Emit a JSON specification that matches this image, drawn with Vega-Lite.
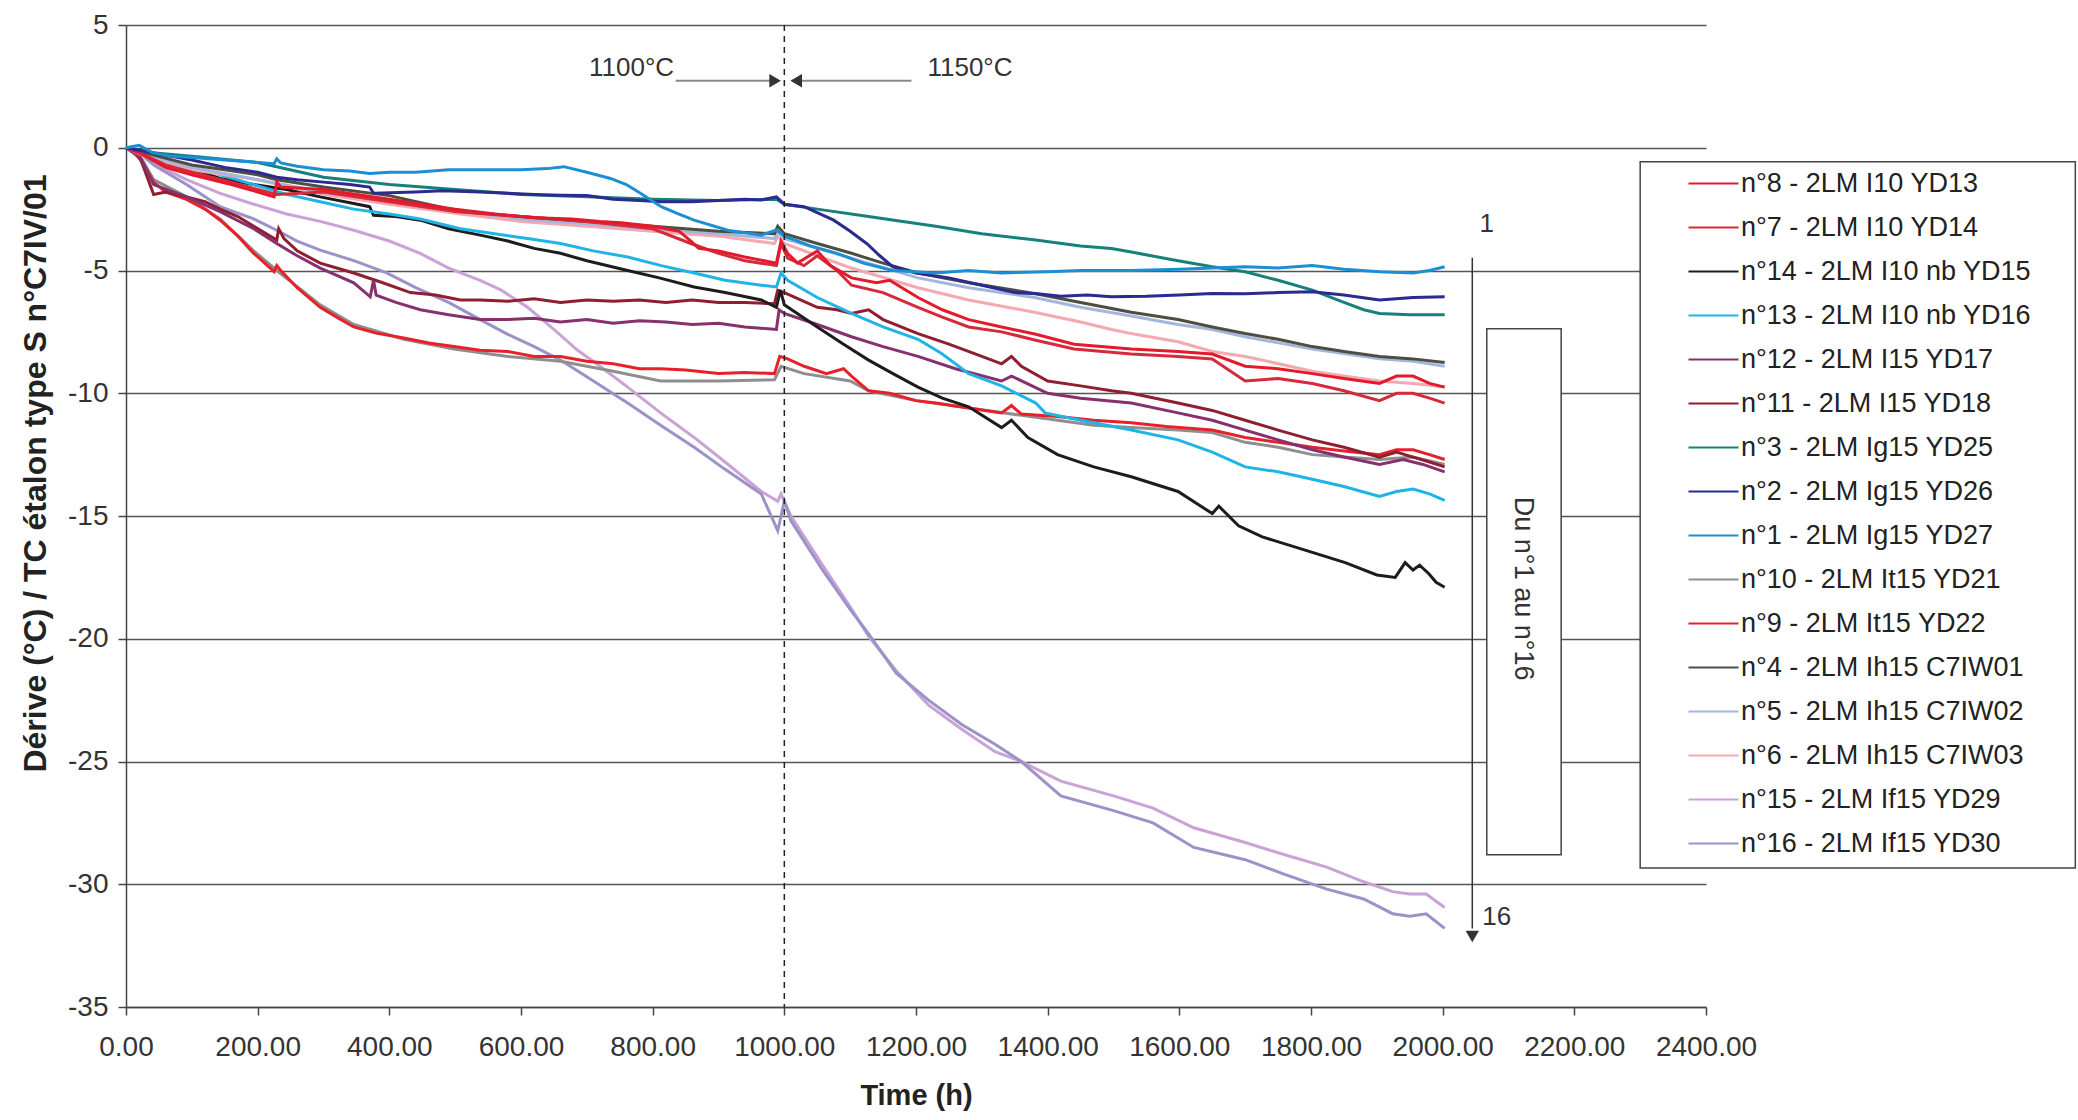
{
"$schema":"https://vega.github.io/schema/vega-lite/v6.json",
"width":1580,"height":982,
"autosize":{"type":"none"},
"padding":{"left":126,"top":25,"right":372,"bottom":113},
"background":"white",
"config":{
 "view":{"stroke":null},
 "font":"Liberation Sans",
 "axis":{"labelFont":"Liberation Sans","titleFont":"Liberation Sans","labelColor":"#333","titleColor":"#222","domainColor":"#444","tickColor":"#444","domainWidth":1.5,"tickWidth":1.5,"gridColor":"#555","gridWidth":1.5,"labelFontSize":28,"titleFontSize":29,"titleFontWeight":"bold"}
},
"datasets":{
 "names":[
  {"n":8,"s":"n°8 - 2LM I10 YD13"},{"n":7,"s":"n°7 - 2LM I10 YD14"},{"n":14,"s":"n°14 - 2LM I10 nb YD15"},{"n":13,"s":"n°13 - 2LM I10 nb YD16"},
  {"n":12,"s":"n°12 - 2LM I15 YD17"},{"n":11,"s":"n°11 - 2LM I15 YD18"},{"n":3,"s":"n°3 - 2LM Ig15 YD25"},{"n":2,"s":"n°2 - 2LM Ig15 YD26"},
  {"n":1,"s":"n°1 - 2LM Ig15 YD27"},{"n":10,"s":"n°10 - 2LM It15 YD21"},{"n":9,"s":"n°9 - 2LM It15 YD22"},{"n":4,"s":"n°4 - 2LM Ih15 C7IW01"},
  {"n":5,"s":"n°5 - 2LM Ih15 C7IW02"},{"n":6,"s":"n°6 - 2LM Ih15 C7IW03"},{"n":15,"s":"n°15 - 2LM If15 YD29"},{"n":16,"s":"n°16 - 2LM If15 YD30"}
 ],
 "pts":[
  {"n":15,"t":0,"v":0},{"n":15,"t":20,"v":-0.2},{"n":15,"t":42,"v":-0.64},{"n":15,"t":92,"v":-1.3},{"n":15,"t":143,"v":-1.86},{"n":15,"t":194,"v":-2.3},{"n":15,"t":244,"v":-2.7},{"n":15,"t":295,"v":-3.0},{"n":15,"t":346,"v":-3.36},{"n":15,"t":400,"v":-3.8},{"n":15,"t":447,"v":-4.3},{"n":15,"t":490,"v":-4.9},{"n":15,"t":538,"v":-5.4},{"n":15,"t":570,"v":-5.8},{"n":15,"t":610,"v":-6.5},{"n":15,"t":650,"v":-7.4},{"n":15,"t":686,"v":-8.25},{"n":15,"t":720,"v":-8.9},{"n":15,"t":762,"v":-9.75},{"n":15,"t":812,"v":-10.8},{"n":15,"t":863,"v":-11.8},{"n":15,"t":910,"v":-12.8},{"n":15,"t":965,"v":-14.0},{"n":15,"t":990,"v":-14.4},{"n":15,"t":995,"v":-14.1},{"n":15,"t":1010,"v":-15.0},{"n":15,"t":1058,"v":-17.0},{"n":15,"t":1100,"v":-18.7},{"n":15,"t":1128,"v":-19.9},{"n":15,"t":1170,"v":-21.3},{"n":15,"t":1219,"v":-22.7},{"n":15,"t":1270,"v":-23.7},{"n":15,"t":1320,"v":-24.6},{"n":15,"t":1360,"v":-25.0},{"n":15,"t":1420,"v":-25.8},{"n":15,"t":1500,"v":-26.4},{"n":15,"t":1560,"v":-26.9},{"n":15,"t":1622,"v":-27.7},{"n":15,"t":1700,"v":-28.3},{"n":15,"t":1760,"v":-28.8},{"n":15,"t":1824,"v":-29.3},{"n":15,"t":1880,"v":-29.9},{"n":15,"t":1924,"v":-30.3},{"n":15,"t":1950,"v":-30.4},{"n":15,"t":1975,"v":-30.4},{"n":15,"t":2003,"v":-30.95},
  {"n":16,"t":0,"v":0},{"n":16,"t":20,"v":-0.2},{"n":16,"t":42,"v":-0.7},{"n":16,"t":92,"v":-1.5},{"n":16,"t":143,"v":-2.4},{"n":16,"t":194,"v":-2.9},{"n":16,"t":229,"v":-3.36},{"n":16,"t":260,"v":-3.8},{"n":16,"t":295,"v":-4.17},{"n":16,"t":346,"v":-4.6},{"n":16,"t":396,"v":-5.1},{"n":16,"t":440,"v":-5.7},{"n":16,"t":490,"v":-6.3},{"n":16,"t":538,"v":-7.0},{"n":16,"t":580,"v":-7.6},{"n":16,"t":620,"v":-8.1},{"n":16,"t":660,"v":-8.65},{"n":16,"t":710,"v":-9.5},{"n":16,"t":762,"v":-10.4},{"n":16,"t":812,"v":-11.3},{"n":16,"t":863,"v":-12.2},{"n":16,"t":910,"v":-13.1},{"n":16,"t":965,"v":-14.1},{"n":16,"t":990,"v":-15.6},{"n":16,"t":1000,"v":-14.4},{"n":16,"t":1010,"v":-15.2},{"n":16,"t":1058,"v":-17.2},{"n":16,"t":1100,"v":-18.8},{"n":16,"t":1128,"v":-19.8},{"n":16,"t":1170,"v":-21.4},{"n":16,"t":1219,"v":-22.5},{"n":16,"t":1270,"v":-23.5},{"n":16,"t":1320,"v":-24.3},{"n":16,"t":1360,"v":-25.0},{"n":16,"t":1420,"v":-26.4},{"n":16,"t":1500,"v":-27.0},{"n":16,"t":1560,"v":-27.5},{"n":16,"t":1622,"v":-28.5},{"n":16,"t":1700,"v":-29.0},{"n":16,"t":1760,"v":-29.6},{"n":16,"t":1824,"v":-30.2},{"n":16,"t":1880,"v":-30.6},{"n":16,"t":1924,"v":-31.2},{"n":16,"t":1950,"v":-31.3},{"n":16,"t":1975,"v":-31.2},{"n":16,"t":2003,"v":-31.8},
  {"n":10,"t":0,"v":0},{"n":10,"t":25,"v":-0.5},{"n":10,"t":42,"v":-1.3},{"n":10,"t":92,"v":-2.0},{"n":10,"t":143,"v":-2.9},{"n":10,"t":194,"v":-4.2},{"n":10,"t":229,"v":-5.0},{"n":10,"t":295,"v":-6.4},{"n":10,"t":346,"v":-7.2},{"n":10,"t":422,"v":-7.8},{"n":10,"t":498,"v":-8.2},{"n":10,"t":580,"v":-8.5},{"n":10,"t":660,"v":-8.7},{"n":10,"t":740,"v":-9.1},{"n":10,"t":812,"v":-9.5},{"n":10,"t":900,"v":-9.5},{"n":10,"t":985,"v":-9.45},{"n":10,"t":995,"v":-8.9},{"n":10,"t":1030,"v":-9.2},{"n":10,"t":1100,"v":-9.5},{"n":10,"t":1128,"v":-9.9},{"n":10,"t":1200,"v":-10.3},{"n":10,"t":1280,"v":-10.6},{"n":10,"t":1360,"v":-10.9},{"n":10,"t":1415,"v":-11.1},{"n":10,"t":1470,"v":-11.3},{"n":10,"t":1527,"v":-11.4},{"n":10,"t":1598,"v":-11.5},{"n":10,"t":1650,"v":-11.6},{"n":10,"t":1700,"v":-12.0},{"n":10,"t":1750,"v":-12.2},{"n":10,"t":1802,"v":-12.5},{"n":10,"t":1850,"v":-12.6},{"n":10,"t":1904,"v":-12.7},{"n":10,"t":1955,"v":-12.6},{"n":10,"t":2003,"v":-12.9},
  {"n":9,"t":0,"v":0},{"n":9,"t":10,"v":-0.1},{"n":9,"t":25,"v":-0.6},{"n":9,"t":42,"v":-1.4},{"n":9,"t":60,"v":-1.8},{"n":9,"t":92,"v":-2.1},{"n":9,"t":120,"v":-2.5},{"n":9,"t":143,"v":-2.95},{"n":9,"t":170,"v":-3.6},{"n":9,"t":194,"v":-4.3},{"n":9,"t":215,"v":-4.8},{"n":9,"t":225,"v":-5.05},{"n":9,"t":229,"v":-4.8},{"n":9,"t":235,"v":-5.0},{"n":9,"t":260,"v":-5.7},{"n":9,"t":295,"v":-6.5},{"n":9,"t":320,"v":-6.9},{"n":9,"t":346,"v":-7.3},{"n":9,"t":380,"v":-7.55},{"n":9,"t":422,"v":-7.75},{"n":9,"t":460,"v":-7.95},{"n":9,"t":498,"v":-8.1},{"n":9,"t":538,"v":-8.25},{"n":9,"t":580,"v":-8.3},{"n":9,"t":620,"v":-8.5},{"n":9,"t":660,"v":-8.5},{"n":9,"t":700,"v":-8.7},{"n":9,"t":740,"v":-8.8},{"n":9,"t":780,"v":-9.0},{"n":9,"t":812,"v":-9.0},{"n":9,"t":850,"v":-9.05},{"n":9,"t":900,"v":-9.2},{"n":9,"t":940,"v":-9.15},{"n":9,"t":985,"v":-9.2},{"n":9,"t":993,"v":-8.5},{"n":9,"t":1005,"v":-8.6},{"n":9,"t":1030,"v":-8.9},{"n":9,"t":1064,"v":-9.2},{"n":9,"t":1090,"v":-9.0},{"n":9,"t":1102,"v":-9.3},{"n":9,"t":1128,"v":-9.9},{"n":9,"t":1160,"v":-10.0},{"n":9,"t":1200,"v":-10.3},{"n":9,"t":1230,"v":-10.4},{"n":9,"t":1280,"v":-10.6},{"n":9,"t":1330,"v":-10.8},{"n":9,"t":1345,"v":-10.5},{"n":9,"t":1360,"v":-10.85},{"n":9,"t":1415,"v":-10.95},{"n":9,"t":1470,"v":-11.1},{"n":9,"t":1527,"v":-11.2},{"n":9,"t":1580,"v":-11.35},{"n":9,"t":1650,"v":-11.5},{"n":9,"t":1700,"v":-11.8},{"n":9,"t":1750,"v":-12.0},{"n":9,"t":1802,"v":-12.2},{"n":9,"t":1850,"v":-12.35},{"n":9,"t":1904,"v":-12.5},{"n":9,"t":1930,"v":-12.3},{"n":9,"t":1955,"v":-12.3},{"n":9,"t":1980,"v":-12.5},{"n":9,"t":2003,"v":-12.7},
  {"n":11,"t":0,"v":0},{"n":11,"t":20,"v":-0.3},{"n":11,"t":42,"v":-1.9},{"n":11,"t":60,"v":-1.8},{"n":11,"t":92,"v":-2.0},{"n":11,"t":120,"v":-2.2},{"n":11,"t":143,"v":-2.5},{"n":11,"t":170,"v":-2.8},{"n":11,"t":194,"v":-3.2},{"n":11,"t":229,"v":-3.76},{"n":11,"t":232,"v":-3.3},{"n":11,"t":240,"v":-3.7},{"n":11,"t":260,"v":-4.2},{"n":11,"t":295,"v":-4.7},{"n":11,"t":320,"v":-4.9},{"n":11,"t":346,"v":-5.1},{"n":11,"t":390,"v":-5.5},{"n":11,"t":432,"v":-5.9},{"n":11,"t":470,"v":-6.0},{"n":11,"t":508,"v":-6.2},{"n":11,"t":538,"v":-6.2},{"n":11,"t":580,"v":-6.25},{"n":11,"t":620,"v":-6.15},{"n":11,"t":660,"v":-6.3},{"n":11,"t":700,"v":-6.2},{"n":11,"t":740,"v":-6.25},{"n":11,"t":780,"v":-6.2},{"n":11,"t":820,"v":-6.3},{"n":11,"t":860,"v":-6.2},{"n":11,"t":900,"v":-6.3},{"n":11,"t":940,"v":-6.3},{"n":11,"t":985,"v":-6.35},{"n":11,"t":990,"v":-5.8},{"n":11,"t":1000,"v":-5.9},{"n":11,"t":1050,"v":-6.5},{"n":11,"t":1080,"v":-6.6},{"n":11,"t":1102,"v":-6.75},{"n":11,"t":1128,"v":-6.6},{"n":11,"t":1150,"v":-7.0},{"n":11,"t":1203,"v":-7.57},{"n":11,"t":1250,"v":-8.0},{"n":11,"t":1300,"v":-8.5},{"n":11,"t":1330,"v":-8.8},{"n":11,"t":1345,"v":-8.5},{"n":11,"t":1360,"v":-8.9},{"n":11,"t":1400,"v":-9.5},{"n":11,"t":1450,"v":-9.7},{"n":11,"t":1497,"v":-9.9},{"n":11,"t":1527,"v":-10.0},{"n":11,"t":1598,"v":-10.4},{"n":11,"t":1650,"v":-10.7},{"n":11,"t":1700,"v":-11.1},{"n":11,"t":1750,"v":-11.5},{"n":11,"t":1802,"v":-11.9},{"n":11,"t":1850,"v":-12.2},{"n":11,"t":1904,"v":-12.6},{"n":11,"t":1930,"v":-12.4},{"n":11,"t":1955,"v":-12.6},{"n":11,"t":1980,"v":-12.8},{"n":11,"t":2003,"v":-13.0},
  {"n":12,"t":0,"v":0},{"n":12,"t":20,"v":-0.3},{"n":12,"t":42,"v":-1.5},{"n":12,"t":92,"v":-2.0},{"n":12,"t":143,"v":-2.6},{"n":12,"t":194,"v":-3.3},{"n":12,"t":229,"v":-3.9},{"n":12,"t":260,"v":-4.4},{"n":12,"t":295,"v":-4.9},{"n":12,"t":346,"v":-5.5},{"n":12,"t":371,"v":-6.07},{"n":12,"t":376,"v":-5.4},{"n":12,"t":380,"v":-6.0},{"n":12,"t":410,"v":-6.3},{"n":12,"t":447,"v":-6.6},{"n":12,"t":490,"v":-6.8},{"n":12,"t":538,"v":-7.0},{"n":12,"t":580,"v":-7.0},{"n":12,"t":620,"v":-6.95},{"n":12,"t":660,"v":-7.1},{"n":12,"t":700,"v":-7.0},{"n":12,"t":740,"v":-7.15},{"n":12,"t":780,"v":-7.05},{"n":12,"t":820,"v":-7.1},{"n":12,"t":860,"v":-7.2},{"n":12,"t":900,"v":-7.15},{"n":12,"t":940,"v":-7.3},{"n":12,"t":988,"v":-7.4},{"n":12,"t":992,"v":-6.6},{"n":12,"t":1000,"v":-6.75},{"n":12,"t":1050,"v":-7.2},{"n":12,"t":1102,"v":-7.7},{"n":12,"t":1150,"v":-8.1},{"n":12,"t":1203,"v":-8.5},{"n":12,"t":1260,"v":-9.0},{"n":12,"t":1330,"v":-9.5},{"n":12,"t":1345,"v":-9.3},{"n":12,"t":1400,"v":-10.0},{"n":12,"t":1450,"v":-10.2},{"n":12,"t":1527,"v":-10.4},{"n":12,"t":1598,"v":-10.8},{"n":12,"t":1650,"v":-11.1},{"n":12,"t":1700,"v":-11.5},{"n":12,"t":1750,"v":-11.9},{"n":12,"t":1802,"v":-12.3},{"n":12,"t":1850,"v":-12.6},{"n":12,"t":1904,"v":-12.9},{"n":12,"t":1940,"v":-12.7},{"n":12,"t":1970,"v":-12.9},{"n":12,"t":2003,"v":-13.2},
  {"n":14,"t":0,"v":0},{"n":14,"t":42,"v":-0.3},{"n":14,"t":92,"v":-0.8},{"n":14,"t":143,"v":-1.25},{"n":14,"t":194,"v":-1.5},{"n":14,"t":244,"v":-1.7},{"n":14,"t":295,"v":-2.0},{"n":14,"t":346,"v":-2.27},{"n":14,"t":370,"v":-2.4},{"n":14,"t":376,"v":-2.75},{"n":14,"t":410,"v":-2.8},{"n":14,"t":447,"v":-2.95},{"n":14,"t":490,"v":-3.3},{"n":14,"t":538,"v":-3.56},{"n":14,"t":580,"v":-3.8},{"n":14,"t":620,"v":-4.1},{"n":14,"t":660,"v":-4.3},{"n":14,"t":700,"v":-4.6},{"n":14,"t":762,"v":-5.0},{"n":14,"t":810,"v":-5.3},{"n":14,"t":863,"v":-5.67},{"n":14,"t":910,"v":-5.9},{"n":14,"t":965,"v":-6.2},{"n":14,"t":988,"v":-6.5},{"n":14,"t":994,"v":-5.8},{"n":14,"t":1000,"v":-6.4},{"n":14,"t":1050,"v":-7.3},{"n":14,"t":1090,"v":-8.0},{"n":14,"t":1128,"v":-8.65},{"n":14,"t":1165,"v":-9.2},{"n":14,"t":1203,"v":-9.75},{"n":14,"t":1240,"v":-10.2},{"n":14,"t":1280,"v":-10.55},{"n":14,"t":1330,"v":-11.4},{"n":14,"t":1345,"v":-11.1},{"n":14,"t":1370,"v":-11.8},{"n":14,"t":1415,"v":-12.5},{"n":14,"t":1470,"v":-13.0},{"n":14,"t":1527,"v":-13.4},{"n":14,"t":1598,"v":-14.0},{"n":14,"t":1650,"v":-14.9},{"n":14,"t":1660,"v":-14.6},{"n":14,"t":1690,"v":-15.4},{"n":14,"t":1726,"v":-15.85},{"n":14,"t":1780,"v":-16.3},{"n":14,"t":1852,"v":-16.9},{"n":14,"t":1900,"v":-17.4},{"n":14,"t":1928,"v":-17.5},{"n":14,"t":1943,"v":-16.9},{"n":14,"t":1955,"v":-17.2},{"n":14,"t":1965,"v":-17.0},{"n":14,"t":1979,"v":-17.35},{"n":14,"t":1990,"v":-17.7},{"n":14,"t":2003,"v":-17.9},
  {"n":13,"t":0,"v":0},{"n":13,"t":42,"v":-0.3},{"n":13,"t":92,"v":-0.7},{"n":13,"t":143,"v":-1.1},{"n":13,"t":194,"v":-1.5},{"n":13,"t":244,"v":-1.9},{"n":13,"t":295,"v":-2.2},{"n":13,"t":346,"v":-2.5},{"n":13,"t":400,"v":-2.7},{"n":13,"t":447,"v":-2.9},{"n":13,"t":508,"v":-3.3},{"n":13,"t":560,"v":-3.5},{"n":13,"t":610,"v":-3.7},{"n":13,"t":660,"v":-3.9},{"n":13,"t":710,"v":-4.2},{"n":13,"t":762,"v":-4.45},{"n":13,"t":813,"v":-4.8},{"n":13,"t":863,"v":-5.1},{"n":13,"t":910,"v":-5.4},{"n":13,"t":965,"v":-5.6},{"n":13,"t":988,"v":-5.67},{"n":13,"t":995,"v":-5.1},{"n":13,"t":1005,"v":-5.4},{"n":13,"t":1050,"v":-6.1},{"n":13,"t":1102,"v":-6.75},{"n":13,"t":1150,"v":-7.3},{"n":13,"t":1203,"v":-7.8},{"n":13,"t":1240,"v":-8.4},{"n":13,"t":1280,"v":-9.2},{"n":13,"t":1330,"v":-9.7},{"n":13,"t":1382,"v":-10.4},{"n":13,"t":1396,"v":-10.8},{"n":13,"t":1450,"v":-11.1},{"n":13,"t":1527,"v":-11.5},{"n":13,"t":1598,"v":-11.9},{"n":13,"t":1650,"v":-12.4},{"n":13,"t":1700,"v":-13.0},{"n":13,"t":1750,"v":-13.2},{"n":13,"t":1802,"v":-13.5},{"n":13,"t":1850,"v":-13.8},{"n":13,"t":1904,"v":-14.2},{"n":13,"t":1930,"v":-14.0},{"n":13,"t":1955,"v":-13.9},{"n":13,"t":1980,"v":-14.1},{"n":13,"t":2003,"v":-14.36},
  {"n":6,"t":0,"v":0},{"n":6,"t":42,"v":-0.5},{"n":6,"t":100,"v":-0.9},{"n":6,"t":200,"v":-1.3},{"n":6,"t":300,"v":-1.9},{"n":6,"t":400,"v":-2.3},{"n":6,"t":508,"v":-2.7},{"n":6,"t":600,"v":-3.0},{"n":6,"t":700,"v":-3.2},{"n":6,"t":800,"v":-3.4},{"n":6,"t":900,"v":-3.6},{"n":6,"t":985,"v":-3.9},{"n":6,"t":990,"v":-3.6},{"n":6,"t":1000,"v":-3.9},{"n":6,"t":1050,"v":-4.4},{"n":6,"t":1102,"v":-4.9},{"n":6,"t":1203,"v":-5.7},{"n":6,"t":1280,"v":-6.2},{"n":6,"t":1380,"v":-6.7},{"n":6,"t":1450,"v":-7.1},{"n":6,"t":1497,"v":-7.4},{"n":6,"t":1527,"v":-7.57},{"n":6,"t":1598,"v":-7.9},{"n":6,"t":1650,"v":-8.3},{"n":6,"t":1700,"v":-8.5},{"n":6,"t":1802,"v":-9.1},{"n":6,"t":1850,"v":-9.3},{"n":6,"t":1904,"v":-9.5},{"n":6,"t":1955,"v":-9.6},{"n":6,"t":2003,"v":-9.75},
  {"n":5,"t":0,"v":0},{"n":5,"t":42,"v":-0.4},{"n":5,"t":100,"v":-0.8},{"n":5,"t":200,"v":-1.3},{"n":5,"t":300,"v":-1.8},{"n":5,"t":400,"v":-2.15},{"n":5,"t":508,"v":-2.6},{"n":5,"t":600,"v":-2.9},{"n":5,"t":700,"v":-3.1},{"n":5,"t":800,"v":-3.3},{"n":5,"t":900,"v":-3.5},{"n":5,"t":985,"v":-3.7},{"n":5,"t":990,"v":-3.4},{"n":5,"t":1000,"v":-3.7},{"n":5,"t":1050,"v":-4.1},{"n":5,"t":1102,"v":-4.5},{"n":5,"t":1203,"v":-5.3},{"n":5,"t":1280,"v":-5.7},{"n":5,"t":1380,"v":-6.1},{"n":5,"t":1450,"v":-6.5},{"n":5,"t":1527,"v":-6.85},{"n":5,"t":1598,"v":-7.2},{"n":5,"t":1650,"v":-7.4},{"n":5,"t":1700,"v":-7.7},{"n":5,"t":1802,"v":-8.2},{"n":5,"t":1904,"v":-8.6},{"n":5,"t":1955,"v":-8.7},{"n":5,"t":2003,"v":-8.9},
  {"n":4,"t":0,"v":0},{"n":4,"t":42,"v":-0.3},{"n":4,"t":100,"v":-0.7},{"n":4,"t":150,"v":-0.9},{"n":4,"t":200,"v":-1.1},{"n":4,"t":229,"v":-1.3},{"n":4,"t":300,"v":-1.6},{"n":4,"t":400,"v":-1.95},{"n":4,"t":508,"v":-2.6},{"n":4,"t":600,"v":-2.8},{"n":4,"t":700,"v":-3.0},{"n":4,"t":800,"v":-3.2},{"n":4,"t":900,"v":-3.4},{"n":4,"t":985,"v":-3.5},{"n":4,"t":990,"v":-3.2},{"n":4,"t":1000,"v":-3.5},{"n":4,"t":1050,"v":-3.9},{"n":4,"t":1102,"v":-4.3},{"n":4,"t":1150,"v":-4.7},{"n":4,"t":1203,"v":-5.1},{"n":4,"t":1280,"v":-5.5},{"n":4,"t":1380,"v":-5.94},{"n":4,"t":1450,"v":-6.3},{"n":4,"t":1527,"v":-6.7},{"n":4,"t":1598,"v":-7.0},{"n":4,"t":1650,"v":-7.3},{"n":4,"t":1700,"v":-7.57},{"n":4,"t":1750,"v":-7.8},{"n":4,"t":1802,"v":-8.1},{"n":4,"t":1850,"v":-8.3},{"n":4,"t":1904,"v":-8.5},{"n":4,"t":1955,"v":-8.6},{"n":4,"t":2003,"v":-8.75},
  {"n":7,"t":0,"v":0},{"n":7,"t":20,"v":-0.2},{"n":7,"t":60,"v":-0.7},{"n":7,"t":100,"v":-1.0},{"n":7,"t":160,"v":-1.4},{"n":7,"t":200,"v":-1.7},{"n":7,"t":229,"v":-1.9},{"n":7,"t":300,"v":-1.8},{"n":7,"t":400,"v":-2.2},{"n":7,"t":500,"v":-2.6},{"n":7,"t":600,"v":-2.8},{"n":7,"t":700,"v":-3.0},{"n":7,"t":800,"v":-3.3},{"n":7,"t":858,"v":-3.9},{"n":7,"t":900,"v":-4.3},{"n":7,"t":940,"v":-4.6},{"n":7,"t":988,"v":-4.8},{"n":7,"t":995,"v":-3.9},{"n":7,"t":1005,"v":-4.5},{"n":7,"t":1030,"v":-4.8},{"n":7,"t":1050,"v":-4.4},{"n":7,"t":1080,"v":-5.0},{"n":7,"t":1102,"v":-5.6},{"n":7,"t":1150,"v":-5.9},{"n":7,"t":1203,"v":-6.5},{"n":7,"t":1240,"v":-6.9},{"n":7,"t":1280,"v":-7.3},{"n":7,"t":1330,"v":-7.5},{"n":7,"t":1382,"v":-7.84},{"n":7,"t":1440,"v":-8.2},{"n":7,"t":1527,"v":-8.4},{"n":7,"t":1598,"v":-8.5},{"n":7,"t":1650,"v":-8.6},{"n":7,"t":1700,"v":-9.5},{"n":7,"t":1750,"v":-9.4},{"n":7,"t":1802,"v":-9.6},{"n":7,"t":1850,"v":-9.9},{"n":7,"t":1904,"v":-10.3},{"n":7,"t":1930,"v":-10.0},{"n":7,"t":1955,"v":-10.0},{"n":7,"t":1980,"v":-10.2},{"n":7,"t":2003,"v":-10.4},
  {"n":8,"t":0,"v":0},{"n":8,"t":20,"v":-0.2},{"n":8,"t":60,"v":-0.8},{"n":8,"t":100,"v":-1.1},{"n":8,"t":160,"v":-1.5},{"n":8,"t":200,"v":-1.8},{"n":8,"t":225,"v":-2.0},{"n":8,"t":229,"v":-1.4},{"n":8,"t":235,"v":-1.6},{"n":8,"t":300,"v":-1.7},{"n":8,"t":350,"v":-1.9},{"n":8,"t":400,"v":-2.1},{"n":8,"t":450,"v":-2.3},{"n":8,"t":500,"v":-2.5},{"n":8,"t":560,"v":-2.7},{"n":8,"t":620,"v":-2.85},{"n":8,"t":677,"v":-2.9},{"n":8,"t":720,"v":-3.0},{"n":8,"t":752,"v":-3.05},{"n":8,"t":800,"v":-3.2},{"n":8,"t":840,"v":-3.4},{"n":8,"t":858,"v":-3.8},{"n":8,"t":870,"v":-4.1},{"n":8,"t":900,"v":-4.2},{"n":8,"t":940,"v":-4.45},{"n":8,"t":988,"v":-4.7},{"n":8,"t":995,"v":-3.8},{"n":8,"t":1005,"v":-4.3},{"n":8,"t":1020,"v":-4.7},{"n":8,"t":1050,"v":-4.2},{"n":8,"t":1070,"v":-4.8},{"n":8,"t":1102,"v":-5.3},{"n":8,"t":1140,"v":-5.5},{"n":8,"t":1160,"v":-5.4},{"n":8,"t":1203,"v":-6.1},{"n":8,"t":1240,"v":-6.6},{"n":8,"t":1280,"v":-7.0},{"n":8,"t":1330,"v":-7.3},{"n":8,"t":1382,"v":-7.6},{"n":8,"t":1440,"v":-8.0},{"n":8,"t":1527,"v":-8.2},{"n":8,"t":1598,"v":-8.3},{"n":8,"t":1650,"v":-8.4},{"n":8,"t":1700,"v":-8.9},{"n":8,"t":1750,"v":-9.0},{"n":8,"t":1802,"v":-9.2},{"n":8,"t":1850,"v":-9.4},{"n":8,"t":1904,"v":-9.6},{"n":8,"t":1930,"v":-9.3},{"n":8,"t":1955,"v":-9.3},{"n":8,"t":1980,"v":-9.6},{"n":8,"t":2003,"v":-9.75},
  {"n":3,"t":0,"v":0},{"n":3,"t":40,"v":-0.2},{"n":3,"t":100,"v":-0.35},{"n":3,"t":200,"v":-0.6},{"n":3,"t":300,"v":-1.2},{"n":3,"t":400,"v":-1.5},{"n":3,"t":500,"v":-1.7},{"n":3,"t":600,"v":-1.9},{"n":3,"t":700,"v":-2.0},{"n":3,"t":800,"v":-2.1},{"n":3,"t":900,"v":-2.15},{"n":3,"t":988,"v":-2.1},{"n":3,"t":1000,"v":-2.3},{"n":3,"t":1050,"v":-2.5},{"n":3,"t":1128,"v":-2.8},{"n":3,"t":1180,"v":-3.0},{"n":3,"t":1230,"v":-3.2},{"n":3,"t":1300,"v":-3.5},{"n":3,"t":1382,"v":-3.76},{"n":3,"t":1450,"v":-4.0},{"n":3,"t":1497,"v":-4.1},{"n":3,"t":1527,"v":-4.25},{"n":3,"t":1598,"v":-4.6},{"n":3,"t":1650,"v":-4.85},{"n":3,"t":1700,"v":-5.05},{"n":3,"t":1750,"v":-5.4},{"n":3,"t":1802,"v":-5.8},{"n":3,"t":1850,"v":-6.3},{"n":3,"t":1880,"v":-6.6},{"n":3,"t":1904,"v":-6.75},{"n":3,"t":1950,"v":-6.8},{"n":3,"t":2003,"v":-6.8},
  {"n":2,"t":0,"v":0},{"n":2,"t":40,"v":-0.2},{"n":2,"t":100,"v":-0.5},{"n":2,"t":150,"v":-0.8},{"n":2,"t":200,"v":-1.0},{"n":2,"t":229,"v":-1.2},{"n":2,"t":260,"v":-1.3},{"n":2,"t":300,"v":-1.4},{"n":2,"t":340,"v":-1.5},{"n":2,"t":370,"v":-1.6},{"n":2,"t":376,"v":-1.85},{"n":2,"t":440,"v":-1.8},{"n":2,"t":480,"v":-1.75},{"n":2,"t":538,"v":-1.8},{"n":2,"t":580,"v":-1.85},{"n":2,"t":620,"v":-1.9},{"n":2,"t":660,"v":-1.93},{"n":2,"t":700,"v":-1.95},{"n":2,"t":740,"v":-2.1},{"n":2,"t":780,"v":-2.15},{"n":2,"t":813,"v":-2.2},{"n":2,"t":860,"v":-2.2},{"n":2,"t":900,"v":-2.15},{"n":2,"t":940,"v":-2.1},{"n":2,"t":965,"v":-2.13},{"n":2,"t":988,"v":-2.0},{"n":2,"t":1000,"v":-2.3},{"n":2,"t":1030,"v":-2.4},{"n":2,"t":1075,"v":-2.95},{"n":2,"t":1100,"v":-3.4},{"n":2,"t":1125,"v":-3.9},{"n":2,"t":1145,"v":-4.4},{"n":2,"t":1165,"v":-4.85},{"n":2,"t":1200,"v":-5.1},{"n":2,"t":1250,"v":-5.3},{"n":2,"t":1300,"v":-5.6},{"n":2,"t":1350,"v":-5.9},{"n":2,"t":1385,"v":-5.95},{"n":2,"t":1420,"v":-6.05},{"n":2,"t":1460,"v":-6.0},{"n":2,"t":1497,"v":-6.07},{"n":2,"t":1550,"v":-6.05},{"n":2,"t":1600,"v":-6.0},{"n":2,"t":1650,"v":-5.94},{"n":2,"t":1700,"v":-5.95},{"n":2,"t":1750,"v":-5.9},{"n":2,"t":1802,"v":-5.87},{"n":2,"t":1850,"v":-6.0},{"n":2,"t":1904,"v":-6.2},{"n":2,"t":1955,"v":-6.1},{"n":2,"t":2003,"v":-6.07},
  {"n":1,"t":0,"v":0},{"n":1,"t":20,"v":0.1},{"n":1,"t":40,"v":-0.2},{"n":1,"t":70,"v":-0.35},{"n":1,"t":100,"v":-0.4},{"n":1,"t":150,"v":-0.5},{"n":1,"t":200,"v":-0.6},{"n":1,"t":225,"v":-0.65},{"n":1,"t":229,"v":-0.45},{"n":1,"t":235,"v":-0.62},{"n":1,"t":260,"v":-0.75},{"n":1,"t":300,"v":-0.9},{"n":1,"t":340,"v":-0.95},{"n":1,"t":370,"v":-1.05},{"n":1,"t":400,"v":-1.0},{"n":1,"t":440,"v":-1.0},{"n":1,"t":490,"v":-0.9},{"n":1,"t":538,"v":-0.9},{"n":1,"t":600,"v":-0.9},{"n":1,"t":640,"v":-0.85},{"n":1,"t":665,"v":-0.77},{"n":1,"t":700,"v":-1.0},{"n":1,"t":736,"v":-1.25},{"n":1,"t":760,"v":-1.5},{"n":1,"t":782,"v":-1.86},{"n":1,"t":813,"v":-2.4},{"n":1,"t":840,"v":-2.7},{"n":1,"t":863,"v":-2.95},{"n":1,"t":914,"v":-3.36},{"n":1,"t":965,"v":-3.56},{"n":1,"t":988,"v":-3.35},{"n":1,"t":1000,"v":-3.6},{"n":1,"t":1040,"v":-4.0},{"n":1,"t":1080,"v":-4.3},{"n":1,"t":1120,"v":-4.7},{"n":1,"t":1165,"v":-5.0},{"n":1,"t":1230,"v":-5.1},{"n":1,"t":1280,"v":-5.0},{"n":1,"t":1330,"v":-5.1},{"n":1,"t":1400,"v":-5.05},{"n":1,"t":1450,"v":-5.0},{"n":1,"t":1527,"v":-5.0},{"n":1,"t":1600,"v":-4.95},{"n":1,"t":1650,"v":-4.9},{"n":1,"t":1700,"v":-4.85},{"n":1,"t":1750,"v":-4.9},{"n":1,"t":1802,"v":-4.8},{"n":1,"t":1850,"v":-4.95},{"n":1,"t":1904,"v":-5.05},{"n":1,"t":1955,"v":-5.1},{"n":1,"t":1980,"v":-5.0},{"n":1,"t":2003,"v":-4.85}
 ]
},
"layer":[
 {"data":{"name":"pts"},
  "transform":[{"lookup":"n","from":{"data":{"name":"names"},"key":"n","fields":["s"]}}],
  "mark":{"type":"line","strokeWidth":3},
  "encoding":{
   "x":{"field":"t","type":"quantitative","title":"Time (h)","scale":{"domain":[0,2400],"nice":false},
     "axis":{"values":[0,200,400,600,800,1000,1200,1400,1600,1800,2000,2200,2400],"format":".2f","grid":false,"tickSize":8,"labelPadding":18,"titlePadding":20,"labelFlush":false,"labelOverlap":false}},
   "y":{"field":"v","type":"quantitative","title":"Dérive (°C) / TC étalon type S n°C7IV/01","scale":{"domain":[-35,5],"nice":false},
     "axis":{"values":[-35,-30,-25,-20,-15,-10,-5,0,5],"labelExpr":"toString(datum.value)","grid":true,"tickSize":8,"labelPadding":10,"titlePadding":15,"titleY":448,"titleFontSize":32,"labelFlush":false}},
   "color":{"field":"s","type":"nominal",
     "scale":{"domain":["n°8 - 2LM I10 YD13","n°7 - 2LM I10 YD14","n°14 - 2LM I10 nb YD15","n°13 - 2LM I10 nb YD16","n°12 - 2LM I15 YD17","n°11 - 2LM I15 YD18","n°3 - 2LM Ig15 YD25","n°2 - 2LM Ig15 YD26","n°1 - 2LM Ig15 YD27","n°10 - 2LM It15 YD21","n°9 - 2LM It15 YD22","n°4 - 2LM Ih15 C7IW01","n°5 - 2LM Ih15 C7IW02","n°6 - 2LM Ih15 C7IW03","n°15 - 2LM If15 YD29","n°16 - 2LM If15 YD30"],
       "range":["#e41a2c","#d42a3a","#1c1c1c","#20b4e6","#86306e","#8e1e30","#17807a","#2a2a90","#1c8ed4","#8e8e8e","#e8202a","#4d4d40","#a2b6de","#f4a8b0","#c9a2d6","#9a92c8"]},
     "legend":{"title":null,"orient":"none","legendX":1514,"legendY":137,"padding":8,"symbolType":"M-2.5,0H2.5","symbolSize":400,"symbolStrokeWidth":2,"symbolOffset":52,"labelOffset":14,"labelFontSize":27,"labelFont":"Liberation Sans","labelColor":"#222","rowPadding":16,"labelLimit":0,"zindex":2}}
  }},
 {"data":{"values":[{"a":2300,"b":2961,"c":-0.57,"d":-29.34},{"a":2067,"b":2180,"c":-7.37,"d":-28.8}]},
  "mark":{"type":"rect","fill":"white","stroke":"#444","strokeWidth":1.5},
  "encoding":{"x":{"field":"a","type":"quantitative","title":"Time (h)"},"x2":{"field":"b"},
   "y":{"field":"c","type":"quantitative","title":"Dérive (°C) / TC étalon type S n°C7IV/01"},"y2":{"field":"d"}}},
 {"data":{"values":[{"a":1000}]},
  "mark":{"type":"rule","strokeDash":[6,5],"color":"#222","strokeWidth":1.5},
  "encoding":{"x":{"field":"a","type":"quantitative","title":"Time (h)"}}},
 {"data":{"values":[{"a":835,"b":990,"c":2.73},{"a":1193,"b":1012,"c":2.73}]},
  "mark":{"type":"rule","color":"#888","strokeWidth":2},
  "encoding":{"x":{"field":"a","type":"quantitative","title":"Time (h)"},"x2":{"field":"b"},
   "y":{"field":"c","type":"quantitative","title":"Dérive (°C) / TC étalon type S n°C7IV/01"}}},
 {"data":{"values":[{"a":2045,"c":-4.48,"d":-31.8}]},
  "mark":{"type":"rule","color":"#333","strokeWidth":1.5},
  "encoding":{"x":{"field":"a","type":"quantitative","title":"Time (h)"},
   "y":{"field":"c","type":"quantitative","title":"Dérive (°C) / TC étalon type S n°C7IV/01"},"y2":{"field":"d"}}},
 {"data":{"values":[{"a":986,"c":2.73,"sh":"triangle-right"},{"a":1018,"c":2.73,"sh":"triangle-left"},{"a":2045,"c":-32.13,"sh":"triangle-down"}]},
  "mark":{"type":"point","filled":true,"color":"#333","size":180,"opacity":1},
  "encoding":{"x":{"field":"a","type":"quantitative","title":"Time (h)"},
   "y":{"field":"c","type":"quantitative","title":"Dérive (°C) / TC étalon type S n°C7IV/01"},
   "shape":{"field":"sh","type":"nominal","scale":null,"legend":null}}},
 {"data":{"values":[{"a":768,"c":3.26,"tx":"1100°C"},{"a":1282,"c":3.26,"tx":"1150°C"},{"a":2067,"c":-3.1,"tx":"1"},{"a":2082,"c":-31.35,"tx":"16"}]},
  "mark":{"type":"text","fontSize":26,"color":"#333","font":"Liberation Sans","align":"center","baseline":"middle"},
  "encoding":{"x":{"field":"a","type":"quantitative","title":"Time (h)"},
   "y":{"field":"c","type":"quantitative","title":"Dérive (°C) / TC étalon type S n°C7IV/01"},
   "text":{"field":"tx"}}},
 {"data":{"values":[{"a":2122,"c":-17.96,"tx":"Du n°1 au n°16"}]},
  "mark":{"type":"text","fontSize":27,"color":"#333","font":"Liberation Sans","align":"center","baseline":"middle","angle":90},
  "encoding":{"x":{"field":"a","type":"quantitative","title":"Time (h)"},
   "y":{"field":"c","type":"quantitative","title":"Dérive (°C) / TC étalon type S n°C7IV/01"},
   "text":{"field":"tx"}}}
]
}
